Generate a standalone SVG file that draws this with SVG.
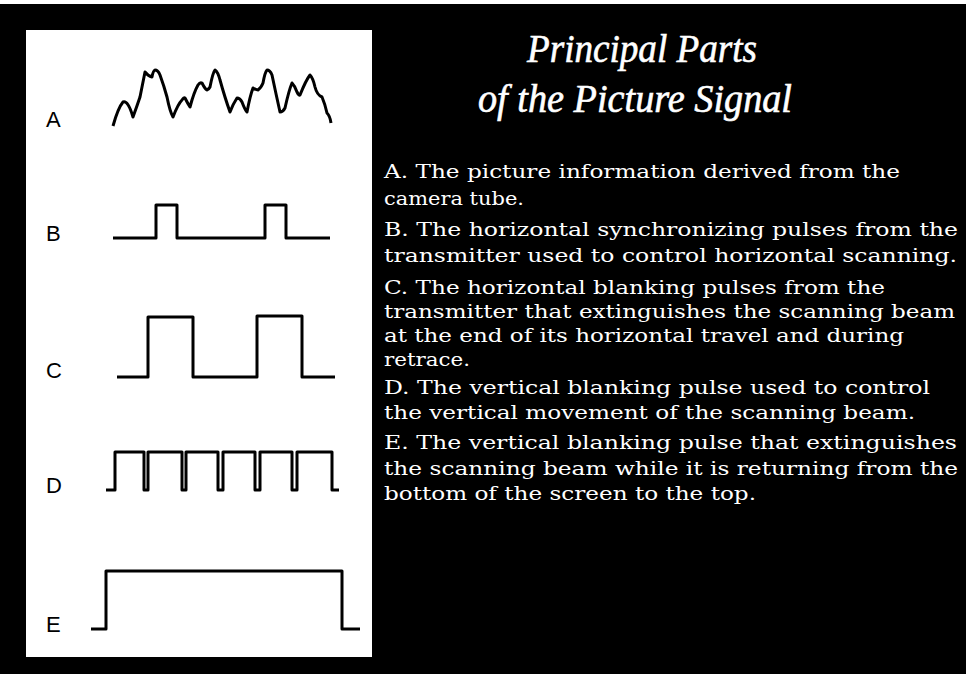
<svg xmlns="http://www.w3.org/2000/svg" width="968" height="675" viewBox="0 0 968 675">
<style>
.wave{fill:none;stroke:#000;stroke-width:3;stroke-linejoin:round;stroke-linecap:butt}
.lbl{font-family:"Liberation Sans",Arial,sans-serif;font-size:22px;fill:#000}
.title{font-family:"Liberation Serif","DejaVu Serif",serif;font-style:italic;font-size:40px;fill:#fff;stroke:#fff;stroke-width:0.6}
.body{font-family:"DejaVu Serif","Liberation Serif",serif;font-size:18px;fill:#fff}
</style>
<rect x="0" y="0" width="968" height="675" fill="#fff"/>
<rect x="0" y="4" width="966" height="670" fill="#000"/>
<rect x="26" y="30" width="346" height="627" fill="#fff"/>
<g id="signal-A">
<text class="lbl" x="46" y="127">A</text>
<path class="wave" stroke-width="3.2" d="M113,126 Q118,108 123,102 Q128,100 133,117 Q137,106 140,97 Q143,82 145,72 Q148,76 152,77 Q153,71 155,70 Q158,70 160,75 Q164,86 167,97 Q170,112 173,117 Q178,104 182,100 Q184,97 185,98 Q188,104 190,107 Q194,92 198,85 Q200,82 202,83 Q205,89 207,90 Q209,89 210,87 Q213,72 215,70 Q218,72 220,80 Q225,98 230,112 Q233,104 237,98 Q240,98 242,102 Q245,110 247,112 Q250,96 253,88 Q256,90 258,90 Q261,88 263,83 Q265,72 267,70 Q270,70 272,75 Q276,94 280,112 Q283,112 285,108 Q289,90 292,83 Q295,86 297,92 Q299,96 300,95 Q306,80 310,75 Q313,78 315,87 Q317,95 322,97 Q325,104 327,113 Q330,116 331,123"/>
</g>
<g id="signal-B">
<text class="lbl" x="46" y="241">B</text>
<path class="wave" d="M113,238 H156 V205 H177 V238 H265 V205 H286 V238 H330"/>
</g>
<g id="signal-C">
<text class="lbl" x="46" y="378">C</text>
<path class="wave" d="M117,377 H148 V317 H193 V377 H257 V316 H302 V377 H335"/>
</g>
<g id="signal-D">
<text class="lbl" x="46" y="493">D</text>
<path class="wave" d="M106,490 H115 V452 H144 V490 H148 V452 H182 V490 H186 V452 H218 V490 H223 V452 H255 V490 H260 V452 H292 V490 H297 V452 H332 V490 H339"/>
</g>
<g id="signal-E">
<text class="lbl" x="46" y="632">E</text>
<path class="wave" d="M91,629 H106 V571 H342 V629 H360"/>
</g>
<g id="title">
<text class="title" x="527" y="62" textLength="230" lengthAdjust="spacingAndGlyphs">Principal Parts</text>
<text class="title" x="478" y="112" textLength="314" lengthAdjust="spacingAndGlyphs">of the Picture Signal</text>
</g>
<g id="descriptions">
<text class="body" x="384" y="178" textLength="516" lengthAdjust="spacingAndGlyphs">A.  The picture information derived from the</text>
<text class="body" x="384" y="205" textLength="140" lengthAdjust="spacingAndGlyphs">camera tube.</text>
<text class="body" x="384" y="236" textLength="574" lengthAdjust="spacingAndGlyphs">B.  The horizontal synchronizing pulses from the</text>
<text class="body" x="384" y="262" textLength="573" lengthAdjust="spacingAndGlyphs">transmitter used to control horizontal scanning.</text>
<text class="body" x="384" y="294" textLength="501" lengthAdjust="spacingAndGlyphs">C.  The horizontal blanking pulses from the</text>
<text class="body" x="384" y="318" textLength="571" lengthAdjust="spacingAndGlyphs">transmitter that extinguishes the scanning beam</text>
<text class="body" x="384" y="342" textLength="520" lengthAdjust="spacingAndGlyphs">at the end of its horizontal travel and during</text>
<text class="body" x="384" y="366" textLength="86" lengthAdjust="spacingAndGlyphs">retrace.</text>
<text class="body" x="384" y="394" textLength="546" lengthAdjust="spacingAndGlyphs">D.  The vertical blanking pulse used to control</text>
<text class="body" x="384" y="419" textLength="531" lengthAdjust="spacingAndGlyphs">the vertical movement of the scanning beam.</text>
<text class="body" x="384" y="449" textLength="573" lengthAdjust="spacingAndGlyphs">E.  The vertical blanking pulse that extinguishes</text>
<text class="body" x="384" y="475" textLength="574" lengthAdjust="spacingAndGlyphs">the scanning beam while it is returning from the</text>
<text class="body" x="384" y="500" textLength="372" lengthAdjust="spacingAndGlyphs">bottom of the screen to the top.</text>
</g>
</svg>
